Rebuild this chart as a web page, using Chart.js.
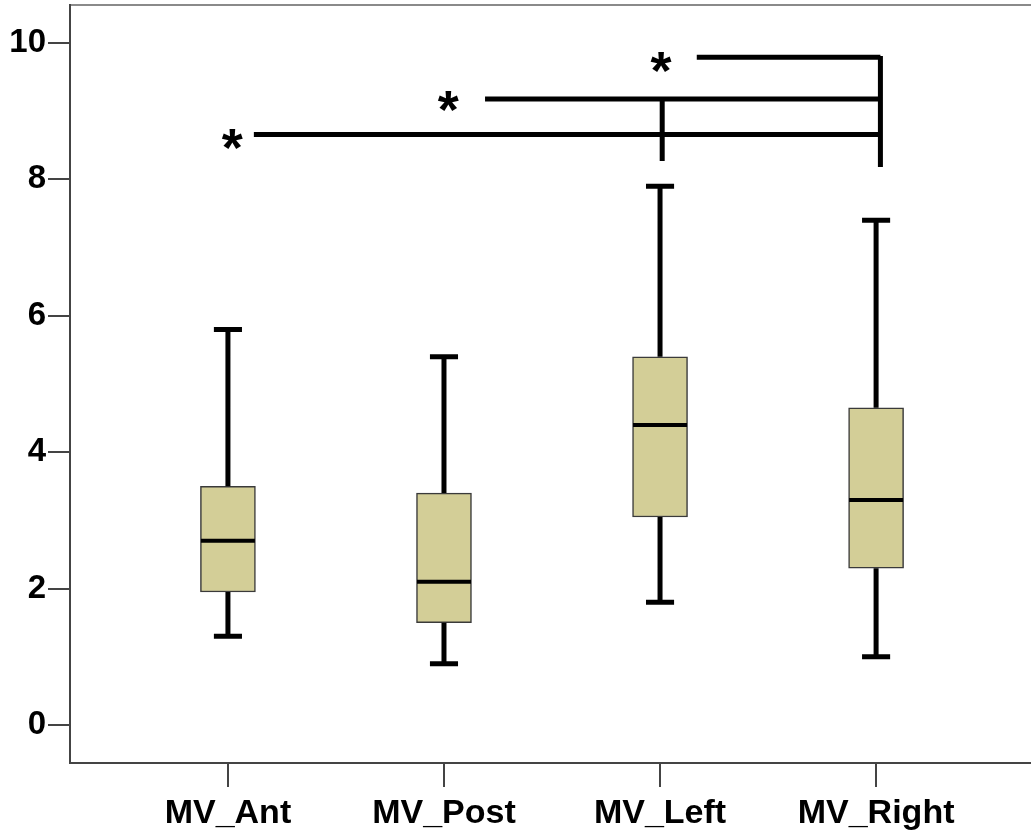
<!DOCTYPE html>
<html>
<head>
<meta charset="utf-8">
<script src="https://cdn.jsdelivr.net/npm/chart.js@4.4.1/dist/chart.umd.min.js"></script>
<style>
  html, body { margin: 0; padding: 0; background: #fff; overflow: hidden; }
</style>
</head>
<body>
<canvas id="myChart" width="1031" height="832"></canvas>
<script>
var categories = ['MV_Ant', 'MV_Post', 'MV_Left', 'MV_Right'];
var mins    = [1.3, 0.9, 1.8, 1.0];
var q1s     = [1.95, 1.5, 3.05, 2.3];
var medians = [2.7, 2.1, 4.4, 3.3];
var q3s     = [3.5, 3.4, 5.4, 4.65];
var maxs    = [5.8, 5.4, 7.9, 7.4];
var yTicks  = [0, 2, 4, 6, 8, 10];

// significance brackets, x in category units, y in value units
var starX     = [0.02, 1.02, 2.005];
var starY     = [8.59, 9.135, 9.71];
var sigX0     = [0.12, 1.19, 2.17];
var sigX1     = [3.02, 3.02, 3.02];
var sigY      = [8.66, 9.18, 9.79];
var dropX     = [3.02, 2.01];
var dropTop   = [9.81, 9.18];
var dropBot   = [8.18, 8.27];

var capHalf = 0.065;
var boxHalf = 0.125;

var whiskerPts = [], capPts = [], medianPts = [], boxPts = [];
for (var i = 0; i < categories.length; i++) {
  whiskerPts.push({x: i, y: mins[i]}, {x: i, y: q1s[i]}, {x: i, y: null},
                  {x: i, y: q3s[i]}, {x: i, y: maxs[i]}, {x: i, y: null});
  capPts.push({x: i - capHalf, y: mins[i]}, {x: i + capHalf, y: mins[i]}, {x: i, y: null},
              {x: i - capHalf, y: maxs[i]}, {x: i + capHalf, y: maxs[i]}, {x: i, y: null});
  medianPts.push({x: i - boxHalf, y: medians[i]}, {x: i + boxHalf, y: medians[i]}, {x: i, y: null});
  boxPts.push({x: i, y: [q1s[i], q3s[i]]});
}

var sigPts = [];
for (var k = 0; k < sigY.length; k++) {
  sigPts.push({x: sigX0[k], y: sigY[k]}, {x: sigX1[k], y: sigY[k]}, {x: sigX1[k], y: null});
}
for (var d = 0; d < dropX.length; d++) {
  sigPts.push({x: dropX[d], y: dropTop[d]}, {x: dropX[d], y: dropBot[d]}, {x: dropX[d], y: null});
}

// asterisks, centred on their ink box
var starPlugin = {
  id: 'stars',
  afterDatasetsDraw: function(chart) {
    var ctx = chart.ctx, xs = chart.scales.x, ys = chart.scales.y;
    ctx.save();
    ctx.fillStyle = '#000';
    ctx.font = 'bold 54px "Liberation Sans", Arial, sans-serif';
    ctx.textAlign = 'center';
    ctx.textBaseline = 'alphabetic';
    var m = ctx.measureText('*');
    var shift = (m.actualBoundingBoxAscent - m.actualBoundingBoxDescent) / 2;
    for (var s = 0; s < starX.length; s++) {
      ctx.fillText('*', xs.getPixelForValue(starX[s]), ys.getPixelForValue(starY[s]) + shift);
    }
    ctx.restore();
  }
};

var lineStyle = function(data, width) {
  return {
    type: 'line', data: data, borderColor: '#000', borderWidth: width,
    pointRadius: 0, spanGaps: false, fill: false, tension: 0,
    borderCapStyle: 'butt', order: 1
  };
};

var ctx = document.getElementById('myChart').getContext('2d');
var myChart = new Chart(ctx, {
  type: 'line',
  data: {
    datasets: [
      {
        type: 'bar', data: boxPts, backgroundColor: '#d3ce97',
        borderColor: '#3a3a3a', borderWidth: 1.5, borderSkipped: false,
        barThickness: 55, order: 2
      },
      lineStyle(whiskerPts, 5),
      lineStyle(capPts, 5),
      lineStyle(medianPts, 4),
      lineStyle(sigPts, 5)
    ]
  },
  options: {
    responsive: false,
    animation: false,
    layout: { padding: { top: 5, right: 0, left: 0, bottom: 0 } },
    plugins: { legend: { display: false }, tooltip: { enabled: false } },
    scales: {
      x: {
        type: 'linear', min: -0.731, max: 3.717, offset: false,
        afterBuildTicks: function(scale) {
          scale.ticks = categories.map(function(c, i) { return {value: i}; });
        },
        afterFit: function(scale) {
          scale.height = 69;
          scale.paddingLeft = 0; scale.paddingRight = 0;
        },
        ticks: {
          autoSkip: false, maxRotation: 0, padding: 6, color: '#000',
          font: { family: '"Liberation Sans", Arial, sans-serif', size: 34, weight: 'bold' },
          callback: function(v) { return categories[v]; }
        },
        grid: { drawOnChartArea: false, tickLength: 24, color: '#444', lineWidth: 2, offset: false },
        border: { color: '#444', width: 2 }
      },
      xTop: {
        type: 'linear', position: 'top', min: -0.731, max: 3.717,
        afterFit: function(scale) {
          scale.height = 0;
          scale.paddingLeft = 0; scale.paddingRight = 0;
        },
        ticks: { display: false },
        grid: { display: false },
        border: { color: '#8a8a8a', width: 2 }
      },
      y: {
        type: 'linear', min: -0.557, max: 10.557,
        afterBuildTicks: function(scale) {
          scale.ticks = yTicks.map(function(v) { return {value: v}; });
        },
        afterFit: function(scale) {
          scale.width = 70;
          scale.paddingTop = 0; scale.paddingBottom = 0;
        },
        ticks: {
          padding: 2, color: '#000',
          font: { family: '"Liberation Sans", Arial, sans-serif', size: 33, weight: 'bold' }
        },
        grid: { drawOnChartArea: false, tickLength: 22, color: '#444', lineWidth: 2 },
        border: { color: '#444', width: 2 }
      }
    }
  },
  plugins: [starPlugin]
});
</script>
</body>
</html>
